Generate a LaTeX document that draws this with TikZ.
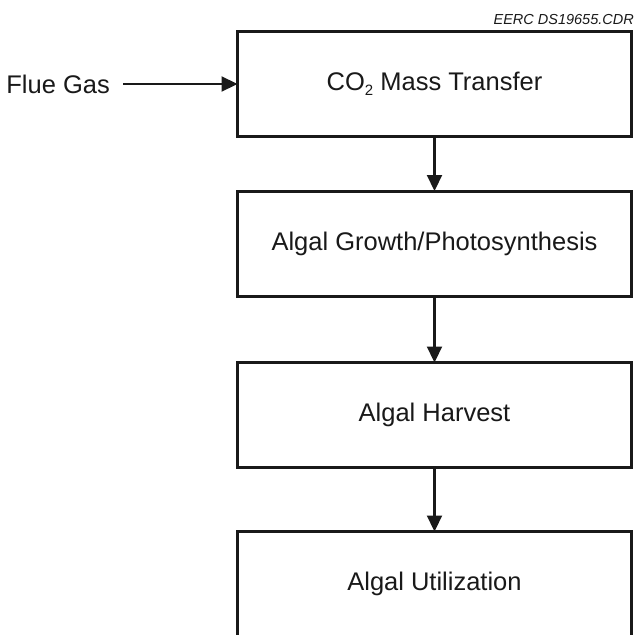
\documentclass[tikz,border=0pt]{standalone}
\usepackage{fontspec}
\setmainfont{Liberation Sans}
\usetikzlibrary{arrows.meta}
\newcommand{\subtwo}{\raisebox{-5pt}{\fontsize{15}{15}\selectfont 2}}
\begin{document}
\begin{tikzpicture}[x=1pt,y=-1pt,
  procbox/.style={draw=black!90, line width=3pt, minimum width=394pt, minimum height=105pt,
    inner sep=0pt, font=\fontsize{25.5}{30}\selectfont, text=black!90},
  flowarrow/.style={draw=black!90, line width=2.2pt,
    -{Triangle[length=16pt,width=15pt]}, shorten >=-1.5pt}
]
\useasboundingbox (0,0) rectangle (635,635);
\node[procbox] (b1) at (434.5,84) {CO\subtwo{} Mass Transfer};
\node[procbox] (b2) at (434.5,243.5) {Algal Growth/Photosynthesis};
\node[procbox] (b3) at (434.5,415) {Algal Harvest};
\node[procbox] (b4) at (434.5,584) {Algal Utilization};
\node[anchor=east, inner sep=0pt, font=\fontsize{25.5}{30}\selectfont, text=black!90] (flue) at (110,84) {Flue Gas};
\node[anchor=base east, inner sep=0pt, font=\itshape\fontsize{14.5}{16}\selectfont, text=black!90] (id) at (634,24) {EERC DS19655.CDR};
\coordinate (fstart) at ([xshift=13pt]flue.east);
\draw[flowarrow] (fstart) -- (b1.west);
\draw[flowarrow] (b1.south) -- (b2.north);
\draw[flowarrow] (b2.south) -- (b3.north);
\draw[flowarrow] (b3.south) -- (b4.north);
\end{tikzpicture}
\end{document}
